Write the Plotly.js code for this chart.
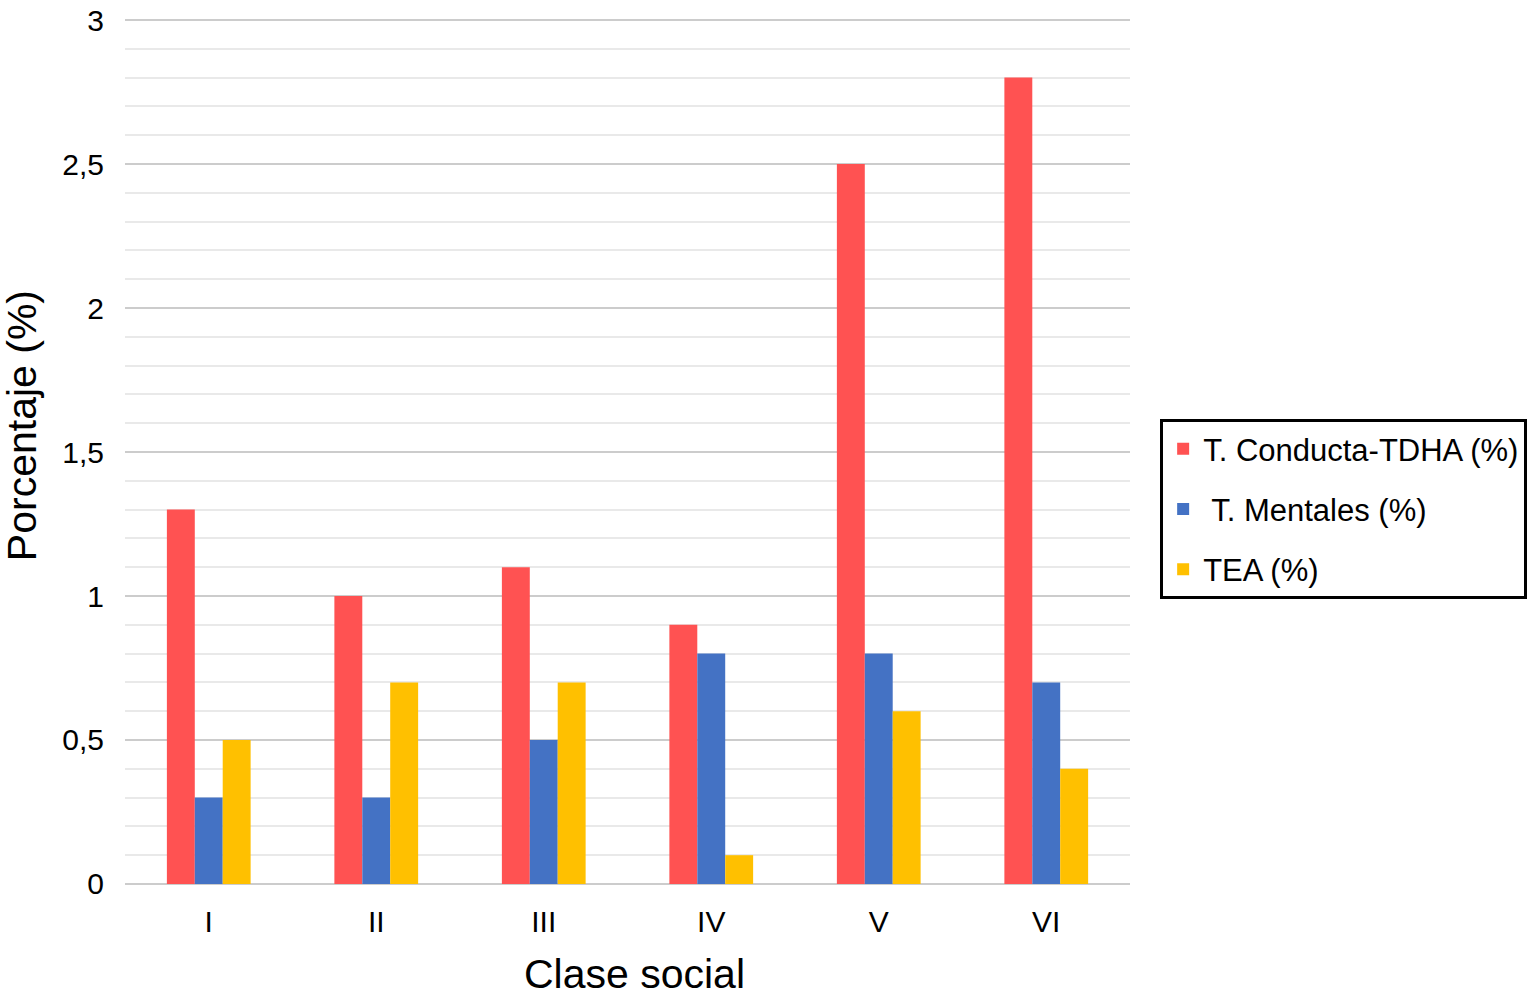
<!DOCTYPE html>
<html><head><meta charset="utf-8">
<script src="https://cdn.plot.ly/plotly-3.0.1.min.js"></script>
<style>html,body{margin:0;padding:0;background:#fff}#chart{width:1530px;height:998px}</style>
</head><body><div id="chart"></div>
<script>
const categories = ["I","II","III","IV","V","VI"];
const conducta = [1.3, 1.0, 1.1, 0.9, 2.5, 2.8];
const mentales = [0.3, 0.3, 0.5, 0.8, 0.8, 0.7];
const tea = [0.5, 0.7, 0.7, 0.1, 0.6, 0.4];
const seriesNames = ["T. Conducta-TDHA (%)", " T. Mentales (%)", "TEA (%)"];
const colors = ["#FF5252", "#4472C4", "#FFC000"];
const xTitle = "Clase social";
const yTitle = "Porcentaje (%)";

const traces = [conducta, mentales, tea].map((v, i) => ({
  type: "bar", x: categories, y: v, name: seriesNames[i],
  legendgroup: "g" + i,
  marker: {color: colors[i]}
}));

const layout = {
  width: 1530, height: 998,
  margin: {l: 125, r: 400, t: 19, b: 113, autoexpand: false},
  paper_bgcolor: "#fff", plot_bgcolor: "#fff",
  separators: ",.",
  font: {family: "Liberation Sans, Arial, sans-serif", color: "#000"},
  barmode: "group", bargap: 0.5, bargroupgap: 0,
  xaxis: {
    showgrid: false, zeroline: false, showline: false,
    ticks: "", tickfont: {size: 30}, ticklabelstandoff: 16
  },
  yaxis: {
    range: [-0.0035, 3.0035], dtick: 0.5, tick0: 0,
    showgrid: true, gridcolor: "#cccccc", gridwidth: 2,
    zeroline: false, showline: false, ticks: "",
    tickfont: {size: 30}, ticklabelstandoff: 20,
    minor: {dtick: 0.1, showgrid: true, gridcolor: "#e9e9e9", gridwidth: 2}
  },
  annotations: [
    {text: xTitle, xref: "paper", yref: "paper", x: 0.5065, y: -0.103,
     xanchor: "center", yanchor: "middle", showarrow: false, font: {size: 41}},
    {text: yTitle, xref: "paper", yref: "paper", x: -0.1025, y: 0.531, textangle: -90,
     xanchor: "center", yanchor: "middle", showarrow: false, font: {size: 41}}
  ],
  showlegend: true,
  legend: {
    x: 1.03, xanchor: "left", y: 0.538, yanchor: "top",
    bordercolor: "#000", borderwidth: 3, bgcolor: "#fff",
    font: {size: 31}, traceorder: "grouped", tracegroupgap: 17, itemwidth: 30
  }
};
Plotly.newPlot("chart", traces, layout, {displayModeBar: false, staticPlot: true});
</script></body></html>
